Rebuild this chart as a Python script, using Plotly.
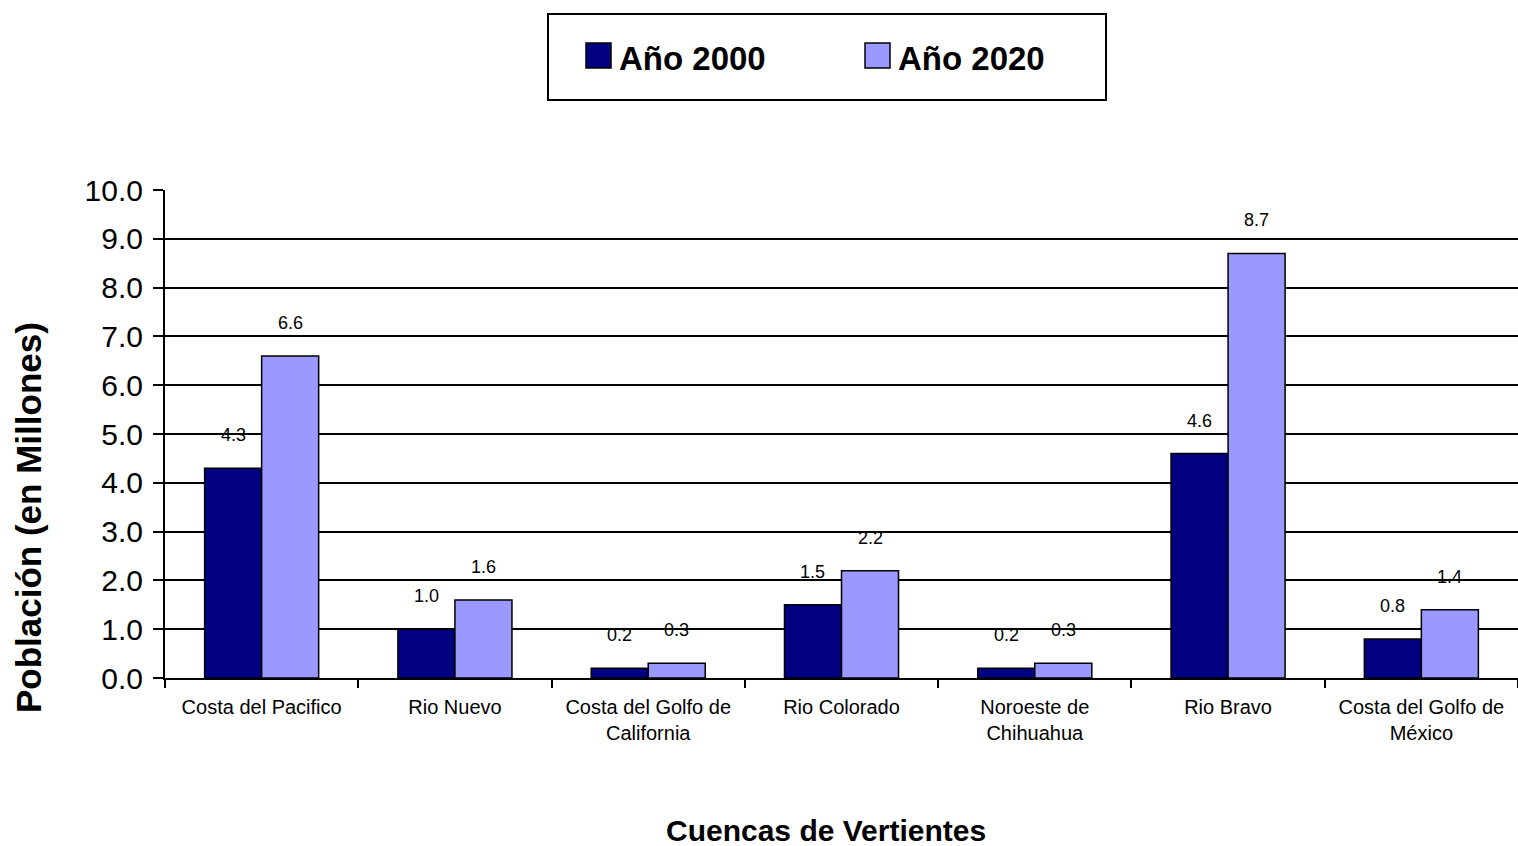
import plotly.graph_objects as go

categories = [
    "Costa del Pacifico",
    "Rio Nuevo",
    "Costa del Golfo de<br>California",
    "Rio Colorado",
    "Noroeste de<br>Chihuahua",
    "Rio Bravo",
    "Costa del Golfo de<br>México",
]
anio_2000 = [4.3, 1.0, 0.2, 1.5, 0.2, 4.6, 0.8]
anio_2020 = [6.6, 1.6, 0.3, 2.2, 0.3, 8.7, 1.4]
y_ticks = [0, 1, 2, 3, 4, 5, 6, 7, 8, 9, 10]
series_names = ["Año 2000", "Año 2020"]
series_colors = ["#000080", "#9999FF"]

W, H = 1518, 846
ML, MR, MT, MB = 165, 0, 190, 168
PW, PH = W - ML - MR, H - MT - MB

def px(x):
    return (x - ML) / PW

def py(y):
    return (H - MB - y) / PH

FONT = "Liberation Sans, Arial, sans-serif"
BARGAP = 0.41

fig = go.Figure()
for name, vals, col in zip(series_names, [anio_2000, anio_2020], series_colors):
    fig.add_trace(go.Bar(
        x=categories, y=vals, name=name,
        marker=dict(color=col, line=dict(color="black", width=1.5)),
        showlegend=False,
    ))

half = (1 - BARGAP) / 4
annotations = []
for i in range(len(categories)):
    for off, vals in ((-half, anio_2000), (half, anio_2020)):
        annotations.append(dict(
            x=i + off, y=vals[i], xref="x", yref="y",
            text=f"{vals[i]:.1f}", showarrow=False, yshift=33,
            font=dict(family=FONT, size=18, color="black"),
        ))

# axis titles
annotations.append(dict(
    x=px(28), y=py(518), xref="paper", yref="paper",
    text="<b>Población (en Millones)</b>", textangle=-90, showarrow=False,
    xanchor="center", yanchor="middle",
    font=dict(family=FONT, size=35, color="black"),
))
annotations.append(dict(
    x=px(826), y=py(830), xref="paper", yref="paper",
    text="<b>Cuencas de Vertientes</b>", showarrow=False,
    xanchor="center", yanchor="middle",
    font=dict(family=FONT, size=30, color="black"),
))

# custom legend
shapes = [dict(type="rect", xref="paper", yref="paper",
               x0=px(548), x1=px(1106), y0=py(100), y1=py(14),
               line=dict(color="black", width=2), fillcolor="white")]
for name, col, sx in zip(series_names, series_colors, [586, 865]):
    shapes.append(dict(type="rect", xref="paper", yref="paper",
                       x0=px(sx), x1=px(sx + 25), y0=py(68), y1=py(43),
                       line=dict(color="black", width=1.5), fillcolor=col))
    annotations.append(dict(
        x=px(sx + 31), y=py(58), xref="paper", yref="paper",
        text=f"<b>{name}</b>", showarrow=False,
        xanchor="left", yanchor="middle",
        font=dict(family=FONT, size=33, color="black"),
    ))

fig.update_layout(
    width=W, height=H,
    margin=dict(l=ML, r=MR, t=MT, b=MB, pad=0),
    paper_bgcolor="white", plot_bgcolor="white",
    barmode="group", bargap=BARGAP, bargroupgap=0,
    annotations=annotations, shapes=shapes,
    showlegend=False,
    font=dict(family=FONT, color="black"),
)
fig.update_xaxes(
    type="category",
    showline=True, linecolor="black", linewidth=2,
    ticks="outside", tickson="boundaries", ticklen=8, tickcolor="black", tickwidth=1.5,
    tickfont=dict(family=FONT, size=20, color="black"),
    ticklabelstandoff=10,
    showgrid=False, zeroline=False,
)
fig.update_yaxes(
    range=[0, 10], tickvals=y_ticks, tickformat=".1f",
    showline=True, linecolor="black", linewidth=2,
    ticks="outside", ticklen=10, tickcolor="black", tickwidth=2,
    tickfont=dict(family=FONT, size=30, color="black"),
    ticklabelstandoff=4,
    showgrid=True, gridcolor="black", gridwidth=2,
    zeroline=False,
)

fig.write_html("out.html")
